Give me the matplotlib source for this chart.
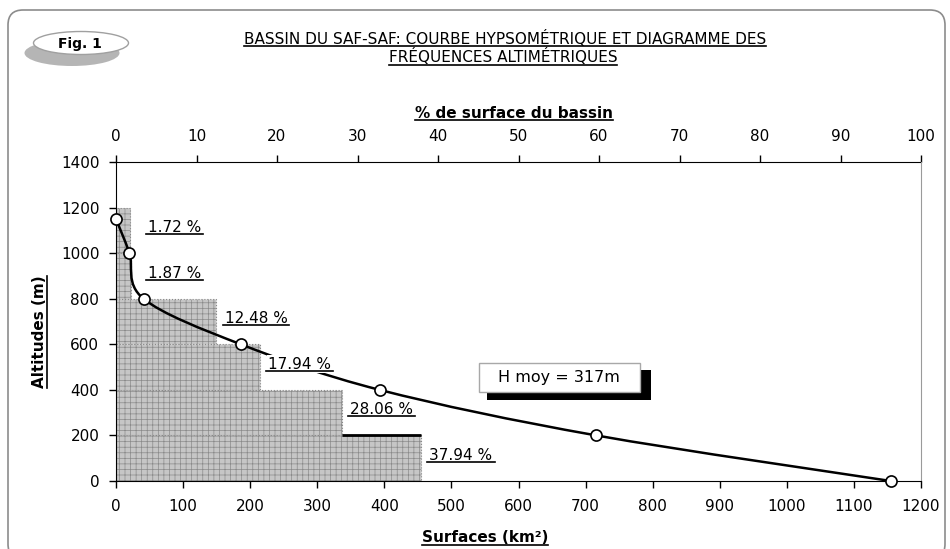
import matplotlib
matplotlib.use('Agg')
import matplotlib.pyplot as plt
import numpy as np
from matplotlib.path import Path
from matplotlib.patches import PathPatch, Rectangle, Ellipse, FancyBboxPatch
from matplotlib.lines import Line2D
from matplotlib.transforms import IdentityTransform

# Hypsometric curve: cumulative surface (km²) above each altitude (m)
surf_km = [0, 20, 41, 186, 393, 716, 1155]
alt_m = [1150, 1000, 800, 600, 400, 200, 0]

# Altimetric frequencies: % of basin surface per altitude band
band_low = [1000, 800, 600, 400, 200, 0]
band_high = [1200, 1000, 800, 600, 400, 200]
band_pct = [1.72, 1.87, 12.48, 17.94, 28.06, 37.94]
pct_labels = ['1.72 %', '1.87 %', '12.48 %', '17.94 %', '28.06 %', '37.94 %']

h_moy = 317

plt.rcParams['font.family'] = 'DejaVu Sans'
plt.rcParams['hatch.color'] = '#ececec'
plt.rcParams['hatch.linewidth'] = 0.5

fig = plt.figure(figsize=(9.5, 5.49), dpi=100)
W, H = 950, 549

# rounded frame around the whole figure
frame = FancyBboxPatch((8, -10), 937, 549, boxstyle='round,pad=0,rounding_size=15',
                       transform=IdentityTransform(), facecolor='none', edgecolor='#8c8c8c',
                       lw=1.2, zorder=-10)
fig.patches.append(frame)

ax = fig.add_axes([116 / W, 1 - 481 / H, (921 - 116) / W, (481 - 162) / H])
ax2 = ax.twiny()
ax.set_zorder(ax2.get_zorder() + 1)
ax.patch.set_visible(False)

# frequency bars on the % axis
ax2.barh([(lo + hi) / 2 for lo, hi in zip(band_low, band_high)], band_pct,
         height=[hi - lo for lo, hi in zip(band_low, band_high)], left=0,
         facecolor='#c6c6c6', edgecolor='#8a8a8a', linestyle=':', linewidth=0.8,
         hatch='+++', zorder=1)
ax2.hlines(band_high[-1], band_pct[-2], band_pct[-1], color='black', lw=2, zorder=2)
ax2.set_xlim(0, 100)
ax2.set_ylim(0, 1400)

# smoothed hypsometric curve (Catmull-Rom rendered as bezier path)
P = np.column_stack([surf_km, alt_m]).astype(float)
verts = [P[0]]
codes = [Path.MOVETO]
for i in range(len(P) - 1):
    p0 = P[i - 1] if i > 0 else P[i]
    p3 = P[i + 2] if i + 2 < len(P) else P[i + 1]
    verts += [P[i] + (P[i + 1] - p0) / 6, P[i + 1] - (p3 - P[i]) / 6, P[i + 1]]
    codes += [Path.CURVE4] * 3
ax.add_patch(PathPatch(Path(verts, codes), fill=False, edgecolor='black', lw=1.8, zorder=3))
ax.plot(surf_km, alt_m, 'o', ls='none', mfc='white', mec='black', ms=8, mew=1.2,
        zorder=4, clip_on=False)

ax.set_xlim(0, 1200)
ax.set_ylim(0, 1400)
ax.set_xticks(np.arange(0, 1201, 100))
ax.set_yticks(np.arange(0, 1401, 200))
ax2.set_xticks(np.arange(0, 101, 10))

for s in ['left', 'bottom']:
    ax.spines[s].set_color('black')
ax.spines['top'].set_visible(False)
ax.spines['right'].set_color('#9a9a9a')
ax.spines['right'].set_linewidth(0.8)
for s in ['left', 'bottom', 'right']:
    ax2.spines[s].set_visible(False)
ax2.spines['top'].set_color('black')

ax.tick_params(direction='out', length=5, width=1, labelsize=11, pad=7)
ax.tick_params(axis='x', pad=8)
ax2.tick_params(axis='x', direction='out', length=5, width=1, labelsize=11, pad=8)
ax2.tick_params(axis='y', left=False, right=False, labelleft=False, labelright=False)

# percentage labels (white background hides the curve as in the original)
under = []
for lo, hi, p, lab in zip(band_low, band_high, band_pct, pct_labels):
    t = ax.text(max(p, 3) + 1, (lo + hi) / 2 + 12, lab, transform=ax2.transData,
                fontsize=11, ha='left', va='center', zorder=5,
                bbox=dict(facecolor='white', edgecolor='none', pad=1))
    under.append((t, 2))

# mean altitude box with black shadow
ax.add_patch(Rectangle((553, 356), 244, 132, facecolor='black', edgecolor='none', zorder=5))
ax.add_patch(Rectangle((541, 391), 240, 128, facecolor='white', edgecolor='#a8a8a8', lw=1, zorder=6))
ax.text(661, 455, 'H moy = %dm' % h_moy, fontsize=11.5, ha='center', va='center', zorder=7)

# titles and axis labels
t1 = fig.text(505 / W, 1 - 38 / H, 'BASSIN DU SAF-SAF: COURBE HYPSOMÉTRIQUE ET DIAGRAMME DES',
              fontsize=11, ha='center', va='center')
t2 = fig.text(503 / W, 1 - 57 / H, 'FRÉQUENCES ALTIMÉTRIQUES', fontsize=11, ha='center', va='center')
t3 = fig.text(514 / W, 1 - 113 / H, '% de surface du bassin', fontsize=11, fontweight='bold',
              ha='center', va='center')
t4 = fig.text(485 / W, 1 - 538 / H, 'Surfaces (km²)', fontsize=11, fontweight='bold',
              ha='center', va='center')
t5 = fig.text(40 / W, 1 - 332 / H, 'Altitudes (m)', fontsize=11, fontweight='bold',
              ha='center', va='center', rotation=90)
under += [(t1, 0), (t2, 0), (t3, 0), (t4, 0)]

# Fig. 1 badge
fig.patches.append(Ellipse((72 / W, 1 - 53 / H), 95 / W, 26 / H, transform=fig.transFigure,
                           facecolor='#b5b5b5', edgecolor='none', zorder=-5))
fig.patches.append(Ellipse((81 / W, 1 - 43 / H), 95 / W, 23 / H, transform=fig.transFigure,
                           facecolor='white', edgecolor='#a0a0a0', lw=1, zorder=-4))
fig.text(80 / W, 1 - 44 / H, 'Fig. 1', fontsize=10, fontweight='bold', ha='center', va='center')

# underline texts
fig.canvas.draw()
r = fig.canvas.get_renderer()
for t, ext in under:
    bb = t.get_window_extent(r)
    y = bb.y0 + 1
    fig.add_artist(Line2D([bb.x0 - ext, bb.x1 + ext], [y, y], transform=IdentityTransform(),
                          color='black', lw=1.2, zorder=10))
bb = t5.get_window_extent(r)
fig.add_artist(Line2D([bb.x1 - 1, bb.x1 - 1], [bb.y0, bb.y1], transform=IdentityTransform(),
                      color='black', lw=1.2))

fig.savefig('out.png', dpi=100)
